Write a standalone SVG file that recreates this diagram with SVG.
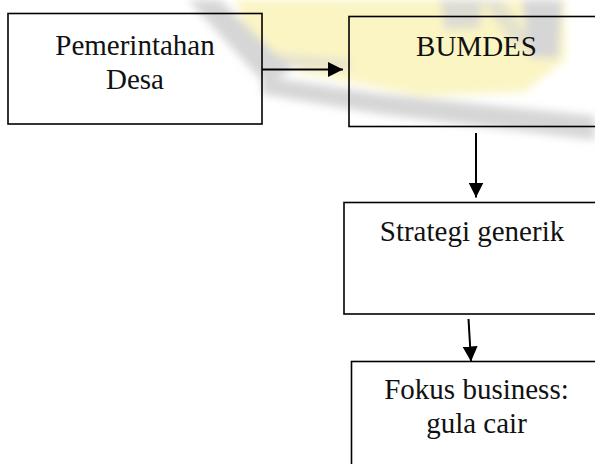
<svg xmlns="http://www.w3.org/2000/svg" width="595" height="464" viewBox="0 0 595 464">
<style>
.box{fill:none;stroke:#000;stroke-width:1.6}
.t{font-family:"Liberation Serif","Times New Roman",serif;font-size:29px;fill:#111;text-anchor:middle}
.c{stroke:#000;stroke-width:2;fill:none}
.wg{fill:#d6d6d6}
.wy{fill:#fbf5c4}
</style>
<defs>
<marker id="ah" viewBox="0 0 10 10" refX="10" refY="5" markerWidth="7.5" markerHeight="7.5" markerUnits="strokeWidth" orient="auto">
<path d="M0,0 L10,5 L0,10 Z" fill="#000"/>
</marker>
<filter id="bl" x="-20%" y="-20%" width="140%" height="140%"><feGaussianBlur stdDeviation="4"/></filter>
</defs>
<rect width="595" height="464" fill="#fff"/>
<g id="watermark" filter="url(#bl)">
<path class="wy" d="M235,0 L565,0 L565,60 L525,92 L420,96 L300,72 L250,40 Z"/>
<path class="wg" d="M188,0 L220,0 L292,70 L265,84 Z"/>
<path class="wg" d="M262,52 L350,60 L350,70 L262,66 Z" opacity="0.6"/>
<path class="wg" d="M262,76 L380,94 L595,116 L595,140 L380,114 L262,94 Z"/>
<path class="wg" d="M440,0 L482,0 L480,28 L445,30 Z" opacity="0.8"/>
<path class="wg" d="M522,0 L562,0 L558,58 L530,58 Z"/>
<path class="wg" d="M480,0 L502,0 L532,40 L516,48 Z" opacity="0.6"/>
</g>
<g id="connectors">
<line class="c" x1="262" y1="69.5" x2="343" y2="69.5" marker-end="url(#ah)"/>
<line class="c" x1="476" y1="133" x2="476" y2="197.5" marker-end="url(#ah)"/>
<line class="c" x1="468.5" y1="319" x2="471" y2="361.5" marker-end="url(#ah)"/>
</g>
<g id="pemerintahan">
<rect class="box" x="8" y="13.5" width="254" height="110.5"/>
<text class="t" x="135" y="55">Pemerintahan</text>
<text class="t" x="135" y="89">Desa</text>
</g>
<g id="bumdes">
<rect class="box" x="349" y="16.5" width="256" height="110"/>
<text class="t" x="476.5" y="56">BUMDES</text>
</g>
<g id="strategi">
<rect class="box" x="344" y="202.5" width="260" height="111.5"/>
<text class="t" x="472" y="241">Strategi generik</text>
</g>
<g id="fokus">
<rect class="box" x="351.5" y="361.5" width="255" height="120"/>
<text class="t" x="476.5" y="399">Fokus business:</text>
<text class="t" x="476.5" y="433">gula cair</text>
</g>
</svg>
